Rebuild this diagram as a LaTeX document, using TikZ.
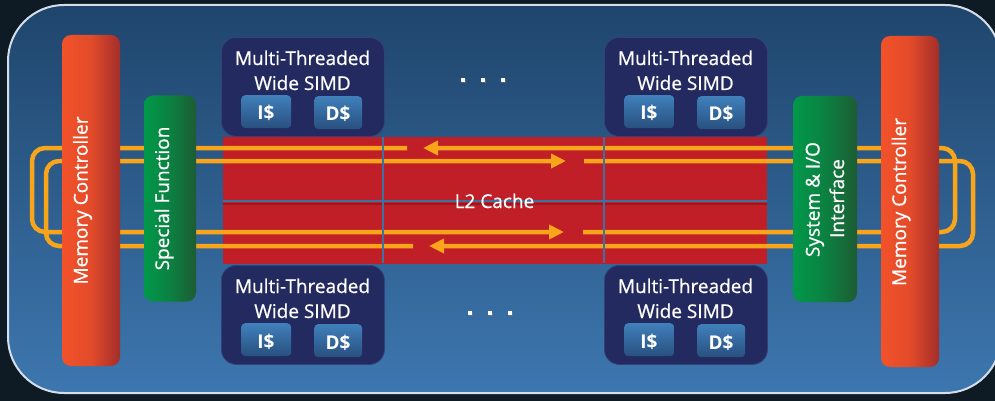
\documentclass[tikz,border=0pt]{standalone}
\usepackage{fontspec}
\setmainfont{Open Sans}
\newfontfamily\medfont{Open Sans}[FakeBold=0.7]
\usetikzlibrary{arrows.meta,shadows}
\definecolor{bgdark}{HTML}{0E1A24}
\definecolor{paneltop}{HTML}{1F456C}
\definecolor{panelbot}{HTML}{3D77AF}
\definecolor{panelborder}{HTML}{D3DEE9}
\definecolor{mcL}{HTML}{F2522A}
\definecolor{mcR}{HTML}{A32E2A}
\definecolor{sfL}{HTML}{00994A}
\definecolor{sfR}{HTML}{1D5C33}
\definecolor{navy}{HTML}{232A5F}
\definecolor{navyedge}{HTML}{34407A}
\definecolor{cacheT}{HTML}{4080BB}
\definecolor{cacheB}{HTML}{28507F}
\definecolor{l2red}{HTML}{C01F28}
\definecolor{l2shadow}{HTML}{7E141A}
\definecolor{ring}{HTML}{F8A51B}
\definecolor{gridblue}{HTML}{3F70A2}
\begin{document}
\begin{tikzpicture}[x=1pt,y=-1pt,
  txt/.style={text=white, inner sep=0, font=\medfont\fontsize{19}{22}\selectfont},
  boldtxt/.style={text=white, inner sep=0, font=\fontsize{19}{22}\selectfont\bfseries},
  mcbar/.style={rounded corners=9pt, left color=mcL, right color=mcR, middle color=mcL!80!mcR, minimum width=58pt, minimum height=331pt, inner sep=0},
  sfbar/.style={rounded corners=9pt, left color=sfL, right color=sfR, middle color=sfL!60!sfR, minimum height=206pt, inner sep=0},
  mtbox/.style={rounded corners=15pt, fill=navy, draw=navyedge, line width=0.8pt, minimum width=163pt, minimum height=99pt, inner sep=0, anchor=north west},
  cachebox/.style={rounded corners=4pt, top color=cacheT, bottom color=cacheB, minimum height=33pt, inner sep=0, anchor=north west},
  ringline/.style={draw=ring, line width=4.5pt, rounded corners=13pt},
  tip/.style={-{Triangle[length=15pt,width=14pt]}},
  gridline/.style={draw=gridblue, line width=2.5pt},
  dotmark/.style={fill=white, minimum size=4pt, inner sep=0, drop shadow={shadow xshift=1.2pt, shadow yshift=-1.2pt, opacity=.5}}
]
\useasboundingbox (0,0) rectangle (995,401);
\fill[bgdark] (0,0) rectangle (995,401);
\draw[draw=panelborder, line width=2pt, top color=paneltop, bottom color=panelbot, rounded corners=56pt] (8,5) rectangle (1001,393);

% L2 cache
\node[fill=l2red, minimum width=544pt, minimum height=127pt, inner sep=0] (l2) at (495,200.5) {};

% ring paths
\coordinate (a1) at (407,148); \coordinate (a2) at (32,148); \coordinate (a3) at (32,232); \coordinate (a4) at (564,232);
\coordinate (b1) at (413,246); \coordinate (b2) at (46,246); \coordinate (b3) at (46,161); \coordinate (b4) at (566,161);
\coordinate (c1) at (583,232); \coordinate (c2) at (955,232); \coordinate (c3) at (955,148); \coordinate (c4) at (423,148);
\coordinate (d1) at (584,161); \coordinate (d2) at (973,161); \coordinate (d3) at (973,246); \coordinate (d4) at (429,246);
\draw[ringline, tip] (a1) -- (a2) -- (a3) -- (a4);
\draw[ringline, tip] (b1) -- (b2) -- (b3) -- (b4);
\draw[ringline, tip] (c1) -- (c2) -- (c3) -- (c4);
\draw[ringline, tip] (d1) -- (d2) -- (d3) -- (d4);

% grid lines in cache
\coordinate (h1) at (223,201); \coordinate (h2) at (767,201);
\coordinate (hs1) at (223,203.8); \coordinate (hs2) at (767,203.8);
\coordinate (v1t) at (383,137); \coordinate (v1b) at (383,263);
\coordinate (v2t) at (604,137); \coordinate (v2b) at (604,263);
\draw[draw=l2shadow, line width=2.5pt, opacity=.6] (hs1) -- (hs2);
\draw[gridline] (h1) -- (h2);
\draw[gridline] (v1t) -- (v1b);
\draw[gridline] (v2t) -- (v2b);
\node[txt, anchor=base] (l2t) at (494.5,208) {L2 Cache};

% bars
\node[mcbar] (mcl) at (91,200.5) {};
\node[txt, rotate=90, anchor=base] (mclt) at (87.5,200.5) {Memory Controller};
\node[mcbar] (mcr) at (910,201.5) {};
\node[txt, rotate=90, anchor=base] (mcrt) at (906,202) {Memory Controller};
\node[sfbar, minimum width=52pt] (sf) at (170,198.5) {};
\node[txt, rotate=90, anchor=base] (sft) at (169,198.5) {Special Function};
\node[sfbar, minimum width=64pt] (sio) at (825,199) {};
\node[txt, rotate=90, anchor=base] (siot1) at (819.5,199.5) {System \& I/O};
\node[txt, rotate=90, anchor=base] (siot2) at (844,198.5) {Interface};

% multi-threaded blocks
\foreach \n/\x/\y in {tl/221/37, tr/604/37, bl/221/265, br/604/265} {
  \node[mtbox] (mt\n) at (\x,\y) {};
  \node[txt, anchor=base] (mt\n a) at (\x+81.5,\y+28) {Multi-Threaded};
  \node[txt, anchor=base] (mt\n b) at (\x+81.5,\y+53) {Wide SIMD};
  \node[cachebox, minimum width=50pt] (ic\n) at (\x+20,\y+58) {};
  \node[boldtxt, anchor=base] (ic\n t) at (\x+45,\y+83) {I\$};
  \node[cachebox, minimum width=48pt] (dc\n) at (\x+93,\y+59) {};
  \node[boldtxt, anchor=base] (dc\n t) at (\x+117,\y+84) {D\$};
}

% ellipsis dots
\node[dotmark] (dt1) at (463,80) {};
\node[dotmark] (dt2) at (483,80) {};
\node[dotmark] (dt3) at (503,80) {};
\node[dotmark] (db1) at (470,313) {};
\node[dotmark] (db2) at (490,313) {};
\node[dotmark] (db3) at (510,313) {};
\end{tikzpicture}
\end{document}
